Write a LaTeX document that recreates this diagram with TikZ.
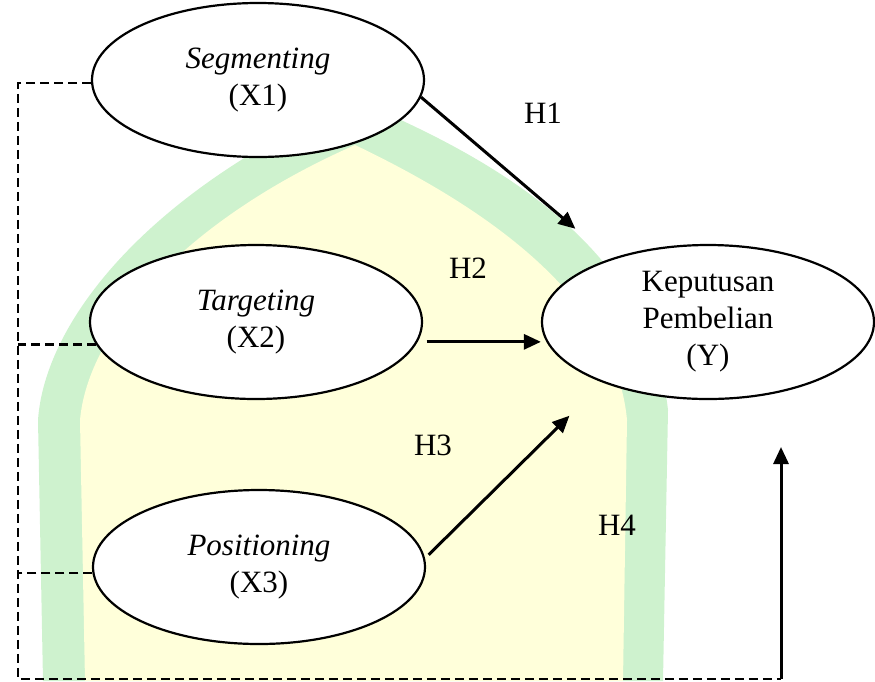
\documentclass[tikz,border=0pt]{standalone}
\usepackage{fontspec}
\setmainfont{Liberation Serif}
\usepackage{tikz}
\usetikzlibrary{calc, positioning, shapes.geometric, arrows.meta, backgrounds}
\definecolor{wmgreen}{RGB}{206,242,206}
\definecolor{wmyellow}{RGB}{255,255,218}
\tikzstyle{var}=[draw, shape=ellipse, fill=white, line width=2.2pt, minimum width=332pt, minimum height=154pt, inner sep=0pt, align=center, font=\fontsize{31}{37}\selectfont]
\tikzstyle{hyp}=[inner sep=0pt, font=\fontsize{31}{37}\selectfont]
\tikzstyle{arr}=[line width=3pt, -{Triangle[length=17pt, width=15pt]}]
\tikzstyle{dashline}=[line width=2.5pt, dash pattern=on 9pt off 5pt]

\begin{document}
\begin{tikzpicture}[x=1pt, y=-1pt]
\useasboundingbox (0,0) rectangle (875,681);
% the watermark behind
\fill[wmgreen] (43,681) -- (38,420) .. controls (45,320) and (150,190) .. (355,100)
  .. controls (500,160) and (650,250) .. (668,410) -- (663,681) -- cycle;
\fill[wmyellow] (85,681) -- (80,420) .. controls (88,330) and (185,220) .. (355,145)
  .. controls (470,200) and (615,290) .. (627,420) -- (623,681) -- cycle;
% the variables
\node[var] (X1) at (258,80) {\textit{Segmenting}\\(X1)};
\node[var] (X2) at (256,322) {\textit{Targeting}\\(X2)};
\node[var] (X3) at (259,567) {\textit{Positioning}\\(X3)};
\node[var] (Y) at (708,322) {Keputusan\\Pembelian\\(Y)};
% the hypotheses
\node[hyp] (lblH1) at (543,113) {H1};
\node[hyp] (lblH2) at (468,268) {H2};
\node[hyp] (lblH3) at (433,445) {H3};
\node[hyp] (lblH4) at (617,525) {H4};
% the corners of the bracket
\coordinate (corner) at (18,679);
\coordinate (bend) at (781,679);
\coordinate (tip) at (781,447);
% the arrows
\draw[arr, shorten >=46pt] (X1.354) -- (Y.147);
\draw[arr, shorten <=9pt] (X2.353) -- (X2.353 -| Y.west);
\draw[arr, shorten <=5pt, shorten >=47pt] (X3.3) -- (Y.210);
% the dashed bracket
\draw[dashline] (X1.181) -| (corner) -- (bend);
\draw[dashline] (X2.188) -- (X2.188 -| corner);
\draw[dashline] (X3.182) -- (X3.182 -| corner);
\draw[arr] (bend) -- (tip);
\end{tikzpicture}
\end{document}
